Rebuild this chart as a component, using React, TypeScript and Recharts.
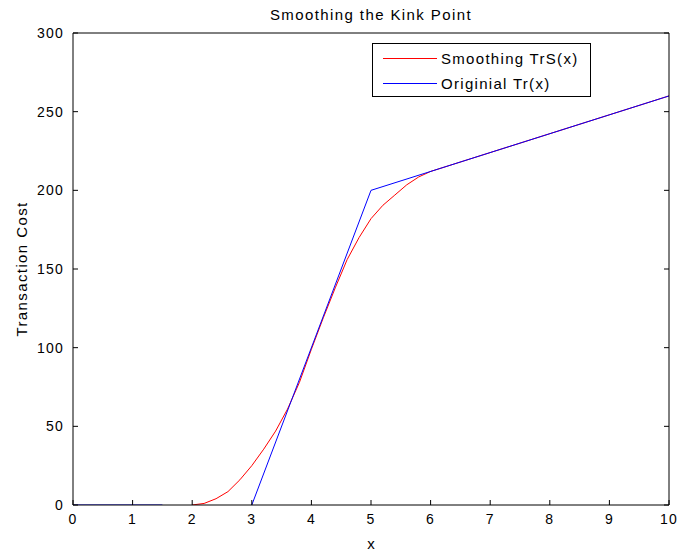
import { Legend, Line, LineChart, XAxis, YAxis } from "recharts";

// axis ticks
const xTicks = [0, 1, 2, 3, 4, 5, 6, 7, 8, 9, 10];
const yTicks = [0, 50, 100, 150, 200, 250, 300];

// Smoothing TrS(x)
const smoothX = [2, 2.2, 2.4, 2.6, 2.8, 3, 3.2, 3.4, 3.6, 3.8, 4, 4.2, 4.4, 4.6, 4.8, 5, 5.2, 5.4, 5.6, 5.8, 6, 7, 8, 9, 10];
const smoothY = [0, 1, 4, 8.5, 16, 25, 35.5, 47, 61, 78, 99, 119, 138, 156, 170, 182, 190.5, 197, 203.5, 208.5, 212, 224, 236, 248, 260];

// Originial Tr(x) (null = gap in the line)
const origX = [0, 1.5, 1.6, 3, 5, 10];
const origY: (number | null)[] = [0, 0, null, 0, 200, 260];

// legend entries, in the order shown
const seriesNames = ["Smoothing TrS(x)", "Originial Tr(x)"];
const seriesColors = ["#ff0000", "#0000ff"];

const smoothData = smoothX.map((x, i) => ({ x, y: smoothY[i] }));
const origData = origX.map((x, i) => ({ x, y: origY[i] }));

const FONT = "'Liberation Sans', Arial, sans-serif";
const TICK_LEN = 5;
const GAP = 9;

const txt = { fontFamily: FONT, fontSize: 14, letterSpacing: 1.2, fill: "#000" };

function BottomTick(props: any) {
  const { x, y, payload } = props;
  return (
    <g>
      <line x1={x} x2={x} y1={y - GAP} y2={y - GAP - TICK_LEN} stroke="#000" />
      <text x={x} y={y} dy="0.72em" textAnchor="middle" {...txt}>
        {payload.value}
      </text>
    </g>
  );
}

function LeftTick(props: any) {
  const { x, y, payload } = props;
  return (
    <g>
      <line x1={x + GAP} x2={x + GAP + TICK_LEN} y1={y} y2={y} stroke="#000" />
      <text x={x} y={y} dy="0.36em" textAnchor="end" {...txt}>
        {payload.value}
      </text>
    </g>
  );
}

function TopTick(props: any) {
  const { x, y } = props;
  return <line x1={x} x2={x} y1={y} y2={y + TICK_LEN} stroke="#000" />;
}

function RightTick(props: any) {
  const { x, y } = props;
  return <line x1={x} x2={x - TICK_LEN} y1={y} y2={y} stroke="#000" />;
}

function LegendBox() {
  return (
    <div
      style={{
        border: "1px solid #000",
        background: "#fff",
        width: 219,
        height: 54,
        boxSizing: "border-box",
        paddingTop: 3,
      }}
    >
      {seriesNames.map((name, i) => (
        <div key={name} style={{ display: "flex", alignItems: "center", height: 22, marginBottom: 3 }}>
          <div style={{ width: 54, height: 1, background: seriesColors[i], marginLeft: 10, marginRight: 4 }} />
          <span style={{ fontFamily: FONT, fontSize: 15, letterSpacing: 1.3, color: "#000" }}>{name}</span>
        </div>
      ))}
    </div>
  );
}

export default function App() {
  return (
    <div style={{ position: "absolute", left: 0, top: 0, background: "#fff" }}>
      <LineChart width={680} height={553} margin={{ top: 32, right: 10, bottom: 18, left: 13 }}>
        <XAxis
          dataKey="x"
          type="number"
          domain={[0, 10]}
          ticks={xTicks}
          interval={0}
          height={30}
          tickSize={0}
          tickMargin={GAP}
          tick={BottomTick}
          tickLine={false}
          axisLine={{ stroke: "#000" }}
          allowDataOverflow
          label={{ value: "x", position: "bottom", offset: 3, style: { fontFamily: FONT, fontSize: 15, fill: "#000" } }}
        />
        <XAxis
          xAxisId="top"
          orientation="top"
          type="number"
          domain={[0, 10]}
          ticks={xTicks}
          interval={0}
          height={1}
          tickSize={0}
          tickMargin={0}
          tick={TopTick}
          tickLine={false}
          axisLine={{ stroke: "#000" }}
          allowDataOverflow
          label={{
            value: "Smoothing the Kink Point",
            position: "top",
            offset: 12,
            style: { fontFamily: FONT, fontSize: 15, letterSpacing: 1.4, fill: "#000" },
          }}
        />
        <YAxis
          type="number"
          domain={[0, 300]}
          ticks={yTicks}
          interval={0}
          width={60}
          tickSize={0}
          tickMargin={GAP}
          tick={LeftTick}
          tickLine={false}
          axisLine={{ stroke: "#000" }}
          allowDataOverflow
          label={{
            value: "Transaction Cost",
            angle: -90,
            position: "insideLeft",
            offset: 9,
            style: { fontFamily: FONT, fontSize: 15, letterSpacing: 1.4, fill: "#000", textAnchor: "middle" },
          }}
        />
        <YAxis
          yAxisId="right"
          orientation="right"
          type="number"
          domain={[0, 300]}
          ticks={yTicks}
          interval={0}
          width={1}
          tickSize={0}
          tickMargin={0}
          tick={RightTick}
          tickLine={false}
          axisLine={{ stroke: "#000" }}
          allowDataOverflow
        />
        <Line
          data={smoothData}
          dataKey="y"
          name={seriesNames[0]}
          stroke={seriesColors[0]}
          strokeWidth={1}
          dot={false}
          type="linear"
          isAnimationActive={false}
        />
        <Line
          data={origData}
          dataKey="y"
          name={seriesNames[1]}
          stroke={seriesColors[1]}
          strokeWidth={1}
          dot={false}
          type="linear"
          connectNulls={false}
          isAnimationActive={false}
        />
        <Legend
          layout="vertical"
          align="center"
          verticalAlign="middle"
          wrapperStyle={{ left: 372, top: 43, width: 219, height: 54 }}
          content={LegendBox}
        />
      </LineChart>
    </div>
  );
}
